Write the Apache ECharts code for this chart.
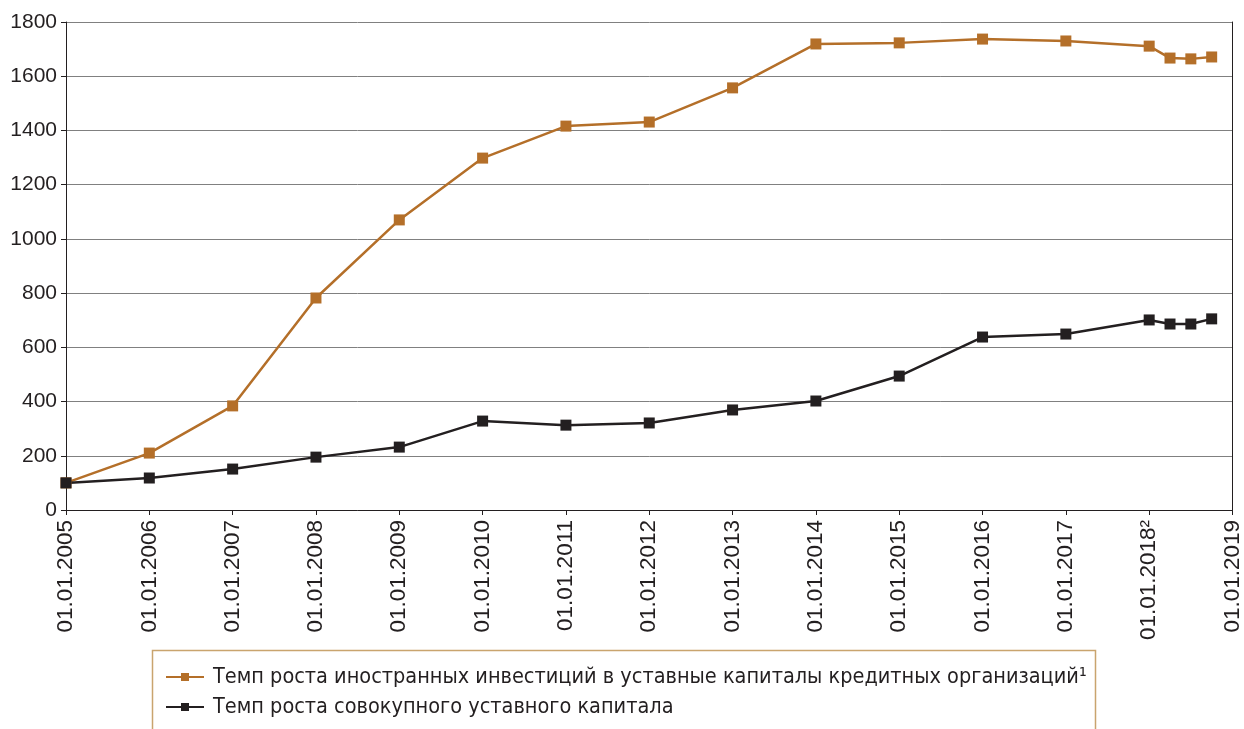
<!DOCTYPE html>
<html>
<head>
<meta charset="utf-8">
<script src="https://cdn.jsdelivr.net/npm/echarts@6/dist/echarts.min.js"></script>
<style>
html, body { margin: 0; padding: 0; background: #fff; }
#main { width: 1244px; height: 729px; }
</style>
</head>
<body>
<div id="main"></div>
<script>
// dates as year fractions (2018 is quarterly)
var years = [2005, 2006, 2007, 2008, 2009, 2010, 2011, 2012, 2013, 2014, 2015, 2016, 2017, 2018, 2018.25, 2018.5, 2018.75];
var foreignInv = [100, 210, 384, 782, 1070, 1298, 1416, 1431, 1557, 1719, 1723, 1737, 1730, 1711, 1667, 1664, 1671];
var totalCapital = [100, 118, 151, 195, 232, 328, 313, 321, 369, 402, 494, 638, 649, 701, 686, 686, 705];
var seriesNames = [
    'Темп роста иностранных инвестиций в уставные капиталы кредитных организаций¹',
    'Темп роста совокупного уставного капитала'
];

function pairs(xs, ys) {
    return xs.map(function (x, i) { return [x, ys[i]]; });
}

var chartDom = document.getElementById('main');
var myChart = echarts.init(chartDom);
var option = {
    animation: false,
    textStyle: { fontFamily: 'Liberation Sans' },
    grid: {
        left: 66,
        right: 7,
        top: 22,
        bottom: 219
    },
    // legend frame, runs off the bottom edge like in the source
    graphic: [{
        type: 'rect',
        left: 150,
        top: 648,
        shape: { width: 943, height: 100 },
        style: { fill: 'none', stroke: '#c9a46e', lineWidth: 1.5 }
    }],
    legend: {
        orient: 'vertical',
        left: 165,
        top: 666,
        padding: 0,
        itemGap: 8,
        itemWidth: 38,
        itemHeight: 10,
        textStyle: { fontSize: 21.5, color: '#231f20', fontFamily: 'DejaVu Sans Condensed', padding: [0, 0, 0, 4] },
        data: seriesNames
    },
    xAxis: {
        type: 'value',
        min: 2005,
        max: 2019,
        interval: 1,
        axisLine: { lineStyle: { color: '#231f20', width: 1 } },
        axisTick: { length: 5, lineStyle: { color: '#231f20' } },
        splitLine: { show: false },
        axisLabel: {
            rotate: 90,
            fontSize: 22.5,
            color: '#231f20',
            margin: 10,
            formatter: function (v) {
                return '01.01.' + v + (v === 2018 ? '²' : '');
            }
        }
    },
    yAxis: [{
        type: 'value',
        min: 0,
        max: 1800,
        interval: 200,
        axisLine: { show: true, lineStyle: { color: '#231f20', width: 1 } },
        axisTick: { show: true, length: 5, lineStyle: { color: '#231f20' } },
        splitLine: { lineStyle: { color: '#808080', width: 1 } },
        axisLabel: {
            fontSize: 21,
            color: '#231f20',
            margin: 9,
            formatter: function (v) { return String(v); }
        }
    }, {
        type: 'value',
        min: 0,
        max: 1800,
        position: 'right',
        axisLine: { show: true, lineStyle: { color: '#231f20', width: 1 } },
        axisTick: { show: false },
        axisLabel: { show: false },
        splitLine: { show: false }
    }],
    series: [
        {
            name: seriesNames[0],
            type: 'line',
            data: pairs(years, foreignInv),
            symbol: 'rect',
            symbolSize: 11,
            lineStyle: { color: '#b46f29', width: 2.5 },
            itemStyle: { color: '#b46f29' }
        },
        {
            name: seriesNames[1],
            type: 'line',
            data: pairs(years, totalCapital),
            symbol: 'rect',
            symbolSize: 11,
            lineStyle: { color: '#231f20', width: 2.5 },
            itemStyle: { color: '#231f20' }
        }
    ]
};
myChart.setOption(option);
</script>
</body>
</html>
